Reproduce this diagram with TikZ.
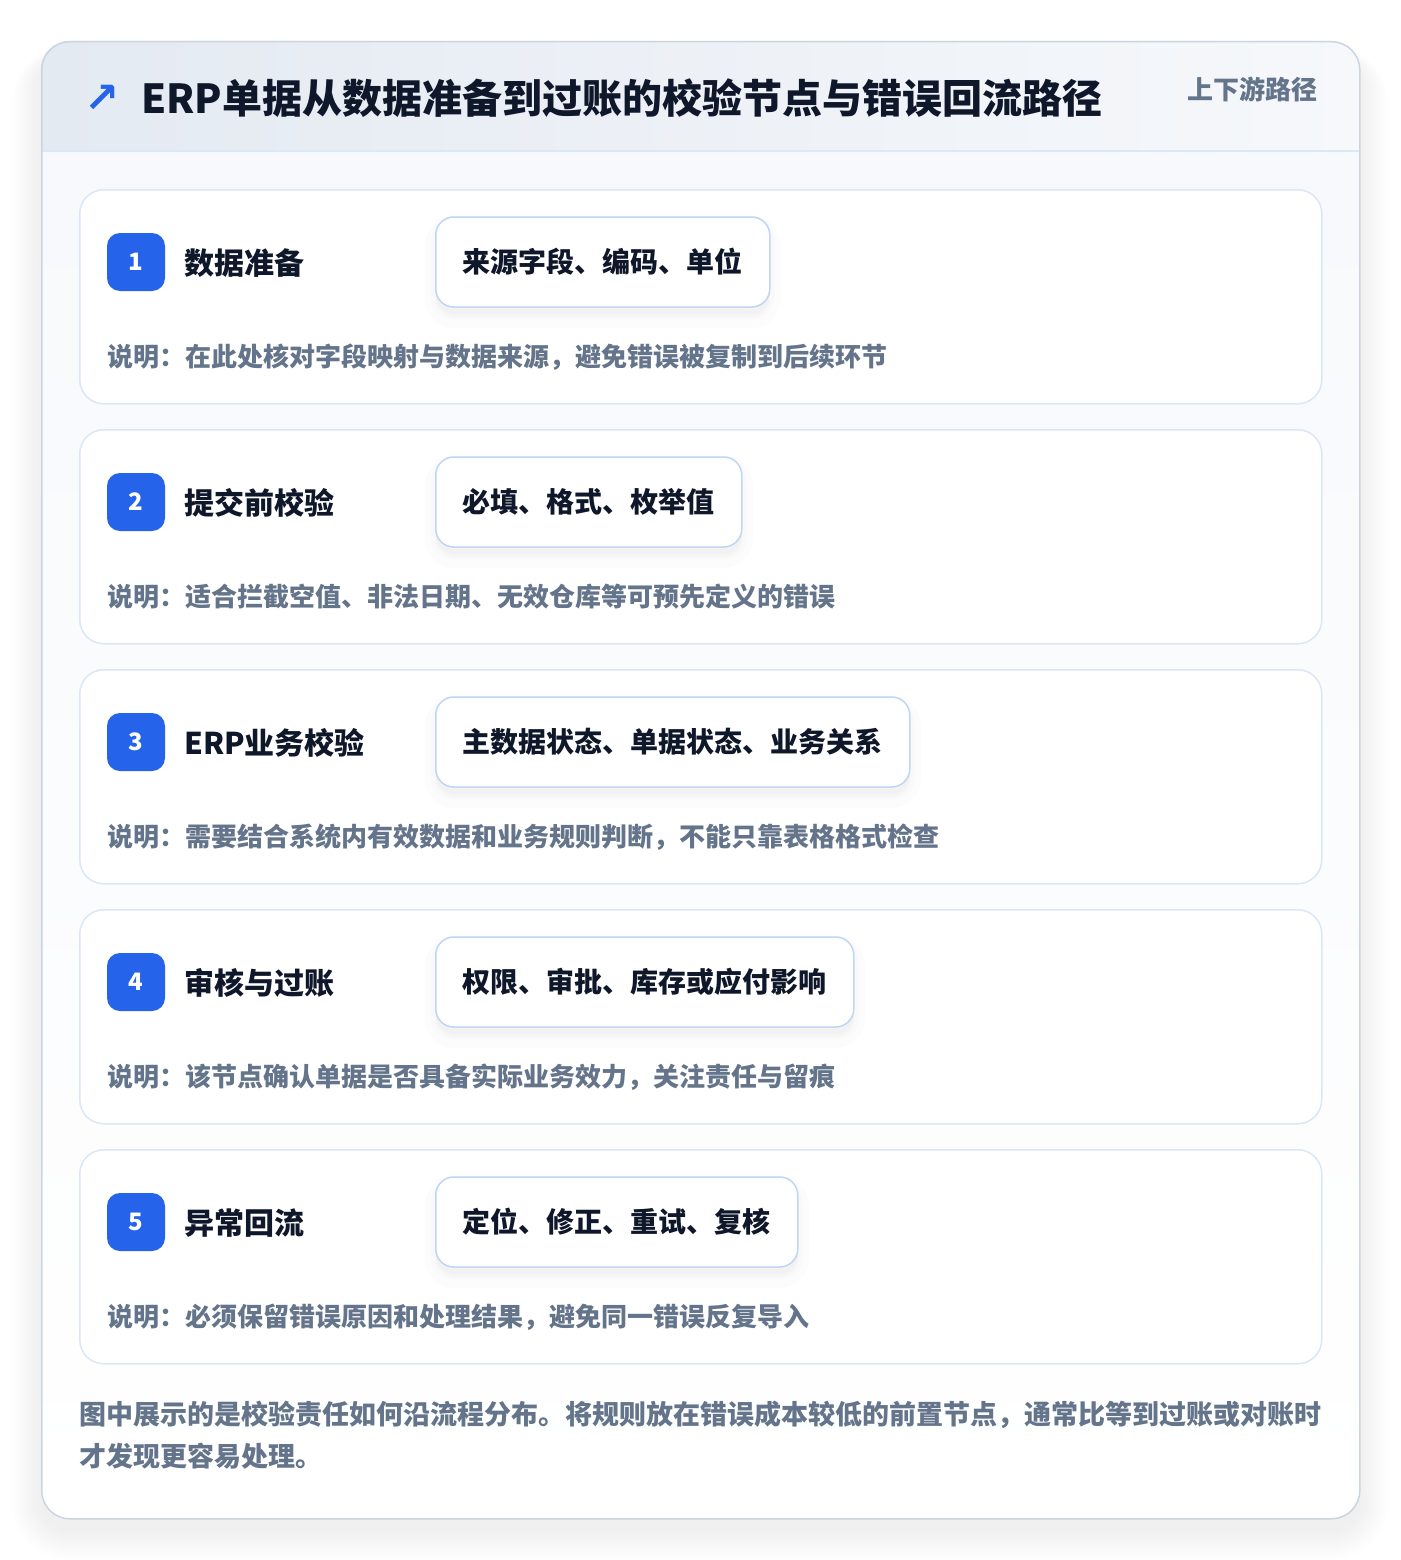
\documentclass[tikz,border=0pt]{standalone}
\usepackage{fontspec}
\setmainfont{Noto Sans CJK SC}
\newfontfamily\symfont{DejaVu Sans}
\definecolor{ink}{HTML}{0F172A}
\definecolor{muted}{HTML}{64748B}
\definecolor{accent}{HTML}{2563EB}
\definecolor{cardline}{HTML}{DCE7F5}
\definecolor{pillline}{HTML}{BFD6F3}
\definecolor{outerline}{HTML}{CBD5E1}
\definecolor{hdrL}{HTML}{E4EAF2}
\definecolor{hdrR}{HTML}{F6F8FB}
\definecolor{bodytop}{HTML}{F7F9FC}
\definecolor{hdrsep}{HTML}{DBE8F8}
\tikzset{
  stepcard/.style={draw=cardline, line width=1.5pt, fill=white, rounded corners=24pt,
    minimum width=1242pt, minimum height=214pt, anchor=north west, inner sep=0pt},
  badge/.style={fill=accent, rounded corners=13pt, minimum width=58pt, minimum height=58pt,
    inner sep=0pt, text=white, font=\fontsize{24}{28}\selectfont\bfseries},
  steptitle/.style={anchor=west, inner sep=0pt, text=ink, font=\fontsize{30}{36}\selectfont\bfseries},
  pill/.style={draw=pillline, line width=1.5pt, fill=white, rounded corners=18pt,
    minimum height=90pt, inner xsep=27pt, inner ysep=0pt, anchor=west, text=ink,
    font=\fontsize{28}{34}\selectfont\bfseries,
    preaction={fill=black, fill opacity=0.012, draw=black, draw opacity=0.01, line width=22pt, transform canvas={yshift=-10pt}},
    preaction={fill=black, fill opacity=0.015, draw=black, draw opacity=0.012, line width=10pt, transform canvas={yshift=-7pt}}},
  desc/.style={anchor=west, inner sep=0pt, text=muted, font=\fontsize{26}{30}\selectfont\bfseries},
}
\begin{document}
\begin{tikzpicture}[x=1pt,y=-1pt]
\useasboundingbox (0,0) rectangle (1400,1560);
\fill[white] (0,0) rectangle (1400,1560);
% soft shadow of the outer card
\foreach \s in {2,4,...,30}
  \fill[black, fill opacity=0.0035, rounded corners=28pt+\s pt] (41-\s,41+12-0.2*\s) rectangle (1359+\s,1518+12+\s);
% outer card
\fill[white, rounded corners=28pt] (41,41) rectangle (1359,1518);
\begin{scope}
  \clip[rounded corners=28pt] (41,41) rectangle (1359,1518);
  \shade[top color=bodytop, bottom color=white] (41,151) rectangle (1359,1518);
  \shade[left color=hdrL, right color=hdrR] (41,41) rectangle (1359,151);
\end{scope}
\draw[hdrsep, line width=1.5pt] (41,151) -- (1359,151);
\node[draw=outerline, line width=1.5pt, rounded corners=28pt, minimum width=1318pt, minimum height=1477pt,
  anchor=north west, inner sep=0pt] (outer) at (41,41) {};
% header
\node[anchor=center, inner sep=0pt, text=accent, font=\symfont\bfseries\fontsize{42}{46}\selectfont] (icon) at (102,99) {↗};
\node[anchor=west, inner sep=0pt, text=ink, font=\fontsize{40}{48}\selectfont\bfseries] (title) at (141,98)
  {ERP单据从数据准备到过账的校验节点与错误回流路径};
\node[anchor=east, inner sep=0pt, text=muted, font=\fontsize{26}{30}\selectfont\bfseries] (tag) at (1318,89) {上下游路径};
% steps
\foreach \n/\t/\p/\d [count=\i from 0] in {
  1/数据准备/来源字段、编码、单位/说明：在此处核对字段映射与数据来源，避免错误被复制到后续环节,
  2/提交前校验/必填、格式、枚举值/说明：适合拦截空值、非法日期、无效仓库等可预先定义的错误,
  3/ERP业务校验/主数据状态、单据状态、业务关系/说明：需要结合系统内有效数据和业务规则判断，不能只靠表格格式检查,
  4/审核与过账/权限、审批、库存或应付影响/说明：该节点确认单据是否具备实际业务效力，关注责任与留痕,
  5/异常回流/定位、修正、重试、复核/说明：必须保留错误原因和处理结果，避免同一错误反复导入}{
  \pgfmathsetmacro{\top}{189+240*\i}
  \node[stepcard] (card\n) at (79,\top) {};
  \node[badge] (badge\n) at (136,\top+73) {\n};
  \node[steptitle] (title\n) at (184,\top+74) {\t};
  \node[pill] (pill\n) at (435,\top+73) {\p};
  \node[desc] (desc\n) at (107,\top+168) {\d};
}
% footnote
\node[anchor=west, inner sep=0pt, text=muted, font=\fontsize{27}{32}\selectfont\bfseries] (note1) at (79,1415)
  {图中展示的是校验责任如何沿流程分布。将规则放在错误成本较低的前置节点，通常比等到过账或对账时};
\node[anchor=west, inner sep=0pt, text=muted, font=\fontsize{27}{32}\selectfont\bfseries] (note2) at (79,1456)
  {才发现更容易处理。};
\end{tikzpicture}
\end{document}
